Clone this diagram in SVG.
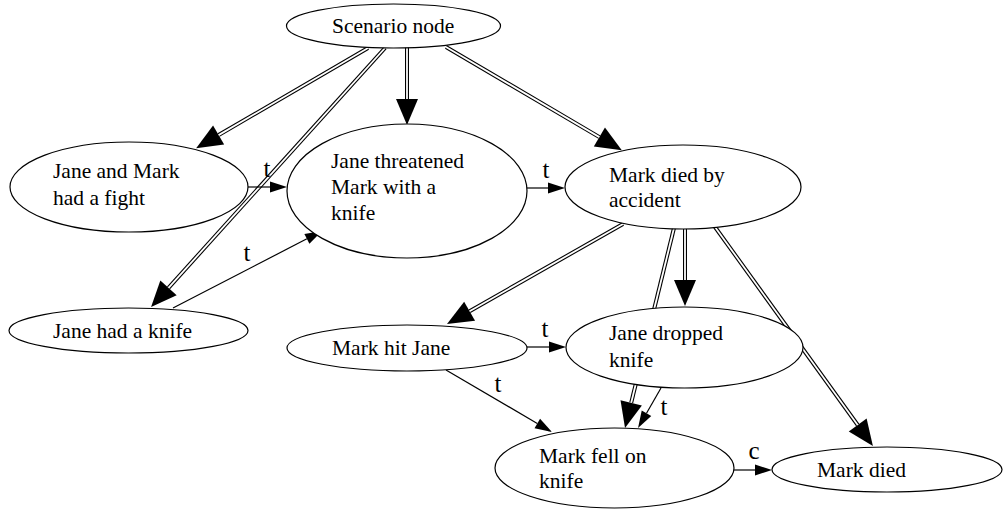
<svg xmlns="http://www.w3.org/2000/svg" width="1004" height="511" viewBox="0 0 1004 511" font-family="Liberation Serif, Times New Roman, Times, serif">
<style>
.node ellipse{fill:#fff;stroke:#000;stroke-width:1.2}
text{font-family:'Liberation Serif','Times New Roman',Times,'DejaVu Serif',serif;font-size:21.5px;fill:#000}
.lbl{text-anchor:middle;font-size:25px}
.dbl{fill:none;stroke:#000;stroke-width:4;marker-end:url(#big)}
.dblw{fill:none;stroke:#fff;stroke-width:1.8}
.sgl{fill:none;stroke:#000;stroke-width:1.2;marker-end:url(#small)}
</style>
<defs>
<marker id="big" markerUnits="userSpaceOnUse" markerWidth="30" markerHeight="26" refX="0" refY="0" viewBox="0 -13 30 26" orient="auto" overflow="visible">
<path d="M0,-11 L26,0 L0,11 Z" fill="#000"/>
</marker>
<marker id="small" markerUnits="userSpaceOnUse" markerWidth="20" markerHeight="14" refX="0" refY="0" viewBox="0 -7 20 14" orient="auto" overflow="visible">
<path d="M0,-5.5 L17,0 L0,5.5 Z" fill="#000"/>
</marker>
</defs>
<g id="edges">
<path class="dbl" d="M368,48 L218.6,135.1"/><path class="dblw" d="M368,48 L218.6,135.1"/>
<path class="dbl" d="M385,48 L168.5,287.8"/><path class="dblw" d="M385,48 L168.5,287.8"/>
<path class="dbl" d="M407,47 L407,99"/><path class="dblw" d="M407,47 L407,99"/>
<path class="dbl" d="M446,47 L599.4,137.1"/><path class="dblw" d="M446,47 L599.4,137.1"/>
<path class="dbl" d="M623,224 L469.6,311.2"/><path class="dblw" d="M623,224 L469.6,311.2"/>
<path class="dbl" d="M685,228 L685,280"/><path class="dblw" d="M685,228 L685,280"/>
<path class="dbl" d="M674,228 L631.2,402.8"/><path class="dblw" d="M674,228 L631.2,402.8"/>
<path class="dbl" d="M715,227 L857.7,425"/><path class="dblw" d="M715,227 L857.7,425"/>
<path class="sgl" d="M248,187 L270,187"/>
<path class="sgl" d="M173,308 L306.9,238.8"/>
<path class="sgl" d="M527,188 L548,188"/>
<path class="sgl" d="M527,347 L549,347"/>
<path class="sgl" d="M446,370 L537.3,423.4"/>
<path class="sgl" d="M661,388 L646.5,413.3"/>
<path class="sgl" d="M734,470 L755,470"/>
<text class="lbl" x="267" y="177">t</text>
<text class="lbl" x="247" y="261">t</text>
<text class="lbl" x="546" y="178">t</text>
<text class="lbl" x="545" y="337">t</text>
<text class="lbl" x="498" y="392">t</text>
<text class="lbl" x="664" y="415">t</text>
<text class="lbl" x="754" y="459">c</text>
</g>
<g id="scenario" class="node"><ellipse cx="393.5" cy="26" rx="107" ry="22"/><text x="332" y="33">Scenario node</text></g>
<g id="fight" class="node"><ellipse cx="129" cy="187" rx="119" ry="45"/><text x="53" y="178">Jane and Mark</text><text x="53" y="205">had a fight</text></g>
<g id="threatened" class="node"><ellipse cx="407" cy="191" rx="120" ry="67"/><text x="331" y="168">Jane threatened</text><text x="331" y="194">Mark with a</text><text x="331" y="220">knife</text></g>
<g id="accident" class="node"><ellipse cx="683" cy="187" rx="118" ry="42"/><text x="609" y="182">Mark died by</text><text x="609" y="207">accident</text></g>
<g id="hadknife" class="node"><ellipse cx="128.5" cy="330.5" rx="119.5" ry="22.5"/><text x="53" y="338">Jane had a knife</text></g>
<g id="hitjane" class="node"><ellipse cx="407" cy="348" rx="120" ry="23"/><text x="332" y="355">Mark hit Jane</text></g>
<g id="dropped" class="node"><ellipse cx="684.5" cy="347.5" rx="118.5" ry="40.5"/><text x="609" y="340">Jane dropped</text><text x="609" y="367">knife</text></g>
<g id="fell" class="node"><ellipse cx="614.5" cy="468" rx="119.5" ry="40"/><text x="539" y="463">Mark fell on</text><text x="539" y="488">knife</text></g>
<g id="died" class="node"><ellipse cx="887" cy="469.5" rx="115" ry="22.5"/><text x="817" y="477">Mark died</text></g>
</svg>
